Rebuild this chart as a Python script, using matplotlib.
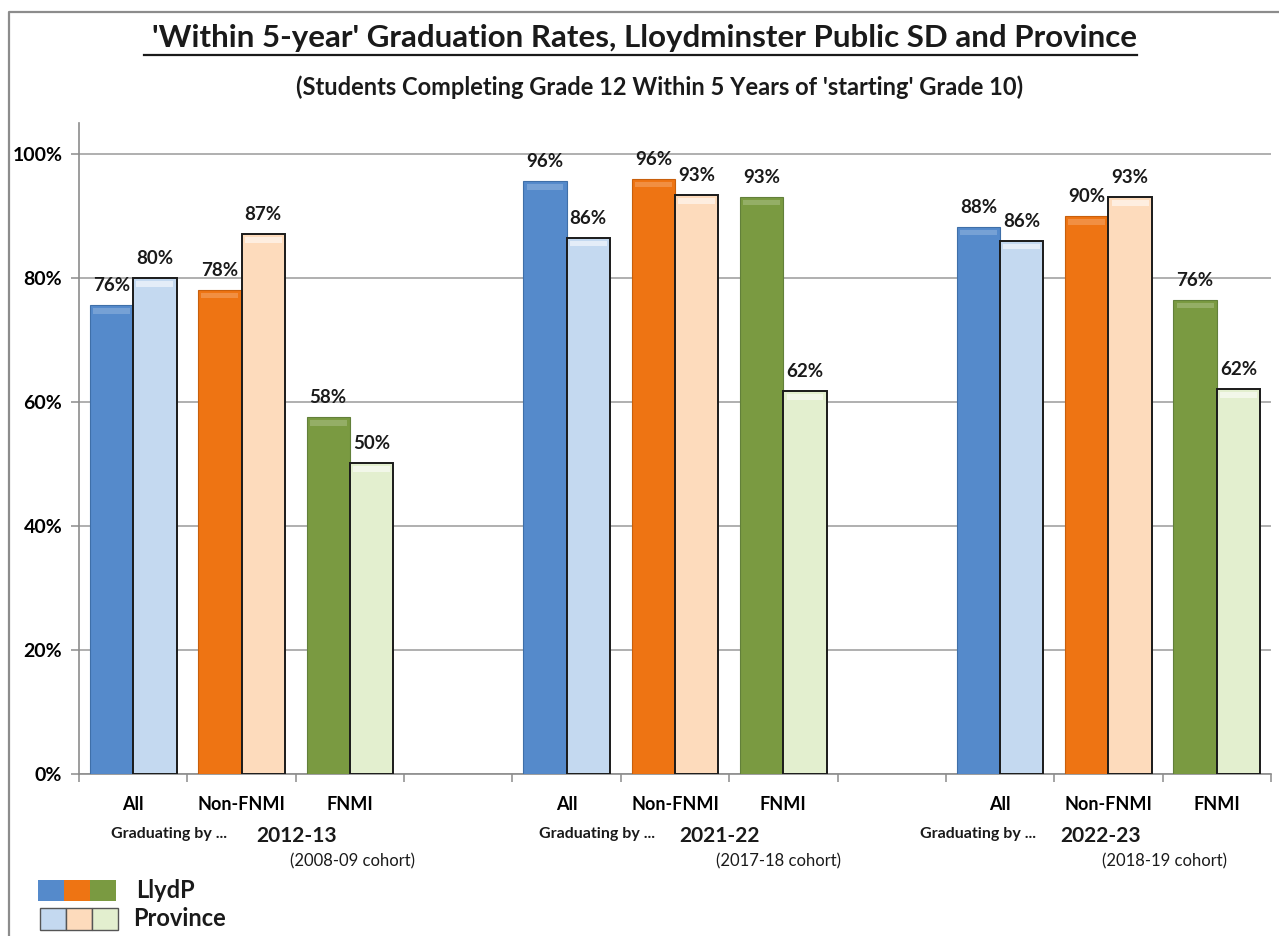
import matplotlib
matplotlib.use('Agg')
import matplotlib.pyplot as plt
import matplotlib.patches as mpatches
import matplotlib.ticker as ticker
import numpy as np

plt.rcParams['font.family'] = ['Lato', 'DejaVu Sans']

# ── Data ──────────────────────────────────────────────────────────────────────

subgroups = ['All', 'Non-FNMI', 'FNMI']
years = ['2012-13', '2021-22', '2022-23']
cohorts = ['(2008-09 cohort)', '(2017-18 cohort)', '(2018-19 cohort)']

# one row per year, columns = All, Non-FNMI, FNMI (percent)
lloyd = [[75.6, 78.1, 57.6],
         [95.6, 96.0, 93.1],
         [88.3, 90.0, 76.5]]
province = [[80.0, 87.1, 50.1],
            [86.5, 93.4, 61.8],
            [86.0, 93.0, 62.1]]

# ── Style ─────────────────────────────────────────────────────────────────────

LLOYD_COLORS = ['#558ACB', '#EE7413', '#7A9A41']
LLOYD_EDGES = ['#3F6FA8', '#C85F0C', '#62803A']
PROV_COLORS = ['#C4D9F0', '#FDDBBC', '#E3EFCF']

W, H = 1279, 936
fig = plt.figure(figsize=(W / 100, H / 100), dpi=100)

# background overlay in pixel coordinates
bg = fig.add_axes([0, 0, 1, 1], zorder=0)
bg.set_xlim(0, W)
bg.set_ylim(H, 0)
bg.axis('off')
bg.plot([9, 9, W + 5], [H + 5, 12, 12], color='#8C8C8C', linewidth=1.6)

# main axes: x from 79 to 1271 px, y from 774 (0%) to 123 (105%)
ax = fig.add_axes([79 / W, 1 - 774 / H, (1271 - 79) / W, (774 - 123) / H], zorder=1)
ax.patch.set_alpha(0)

bw = 0.4
for g in range(len(years)):
    for s in range(len(subgroups)):
        i = g * 4 + s
        lv = lloyd[g][s]
        pv = province[g][s]
        ax.bar(i - bw / 2, lv, width=bw, color=LLOYD_COLORS[s],
               edgecolor=LLOYD_EDGES[s], linewidth=0.8, zorder=3)
        ax.bar(i + bw / 2, pv, width=bw, color=PROV_COLORS[s],
               edgecolor='#1A1A1A', linewidth=1.4, zorder=3)
        # subtle bevel highlight at the top of each bar
        ax.bar(i - bw / 2, 0.9, bottom=lv - 1.4, width=bw * 0.85,
               color='white', alpha=0.2, linewidth=0, zorder=4)
        ax.bar(i + bw / 2, 0.9, bottom=pv - 1.4, width=bw * 0.85,
               color='white', alpha=0.55, linewidth=0, zorder=4)
        for xv, v in ((i - bw / 2, lv), (i + bw / 2, pv)):
            ax.annotate(f'{v:.0f}%', (xv, v), xytext=(0, 14),
                        textcoords='offset points', ha='center', va='center',
                        fontsize=13.5, fontweight='bold', color='#1A1A1A', zorder=5)

ax.set_xlim(-0.5, 10.5)
ax.set_ylim(0, 105)
ax.yaxis.set_major_locator(ticker.MultipleLocator(20))
ax.yaxis.set_major_formatter(ticker.FuncFormatter(lambda v, p: f'{v:.0f}%'))
ax.grid(axis='y', color='#9A9A9A', linewidth=1.1, zorder=0)
ax.set_axisbelow(True)

centers = [g * 4 + s for g in range(len(years)) for s in range(len(subgroups))]
ax.set_xticks(centers)
ax.set_xticklabels(subgroups * len(years), fontsize=13, fontweight='bold')
ax.set_xticks(np.arange(-0.5, 11, 1), minor=True)
ax.tick_params(axis='x', which='major', length=0, pad=16)
ax.tick_params(axis='x', which='minor', length=6, color='#8C8C8C', width=1.1)
ax.tick_params(axis='y', length=6, color='#8C8C8C', width=1.1, pad=6,
               labelsize=14)
for lab in ax.get_yticklabels():
    lab.set_fontweight('bold')
for side in ('top', 'right'):
    ax.spines[side].set_visible(False)
for side in ('left', 'bottom'):
    ax.spines[side].set_color('#8C8C8C')
    ax.spines[side].set_linewidth(1.2)

# group captions (pixel positions)
grad_x = [169, 597, 978]
year_x = [297, 720, 1101]
cohort_x = [353, 779, 1164]
for g in range(len(years)):
    bg.text(grad_x[g], 834, 'Graduating by ...', ha='center', va='center',
            fontsize=11.5, fontweight='bold', color='#1A1A1A')
    bg.text(year_x[g], 836, years[g], ha='center', va='center',
            fontsize=15, fontweight='bold', color='#1A1A1A')
    bg.text(cohort_x[g], 861, cohorts[g], ha='center', va='center',
            fontsize=12, color='#1A1A1A')

# titles
title = bg.text(644, 38, "'Within 5-year' Graduation Rates, Lloydminster Public SD and Province",
                ha='center', va='center', fontsize=22.5, fontweight='bold', color='#1A1A1A')
bg.text(660, 87, "(Students Completing Grade 12 Within 5 Years of 'starting' Grade 10)",
        ha='center', va='center', fontsize=17, fontweight='bold', color='#1A1A1A')
fig.canvas.draw()
bb = title.get_window_extent()
bg.plot([bb.x0 - 8, bb.x1], [55, 55], color='#1A1A1A', linewidth=1.6)

# legend drawn by hand
for k in range(3):
    bg.add_patch(mpatches.Rectangle((38 + k * 26, 880), 26, 21,
                                    facecolor=LLOYD_COLORS[k], edgecolor='none'))
    bg.add_patch(mpatches.Rectangle((40 + k * 26, 908), 26, 22,
                                    facecolor=PROV_COLORS[k], edgecolor='#555555',
                                    linewidth=1.0))
bg.text(136, 891, 'LlydP', ha='left', va='center', fontsize=17,
        fontweight='bold', color='#1A1A1A')
bg.text(133, 919, 'Province', ha='left', va='center', fontsize=17,
        fontweight='bold', color='#1A1A1A')

fig.savefig('out.png', dpi=100)
